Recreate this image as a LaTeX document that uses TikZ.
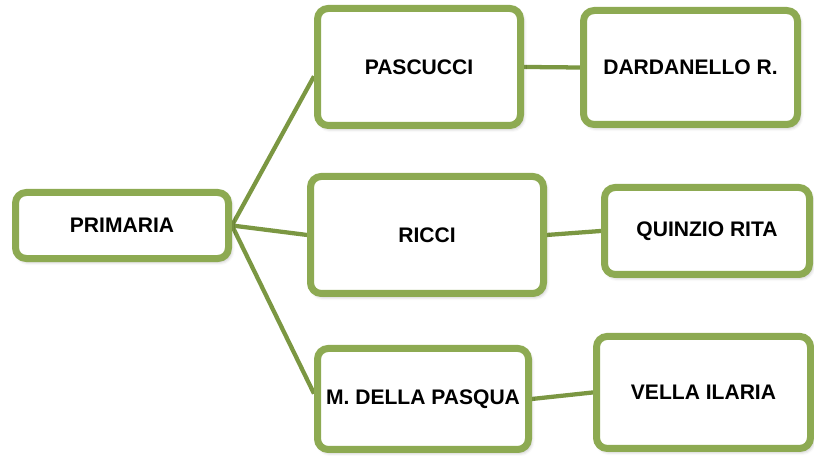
\documentclass[tikz,border=0pt]{standalone}
\usepackage{fontspec}
\setmainfont{Liberation Sans}
\usepackage{xcolor}
\usetikzlibrary{
  positioning,
  shadows.blur,
  backgrounds
}
\definecolor{boxgreen}{HTML}{8DAA52}
\definecolor{linegreen}{HTML}{7B9742}

\begin{document}
\begin{tikzpicture}[
    x=0.75pt, y=-0.75pt,
    every node/.style={font=\fontsize{15.8}{19}\selectfont\bfseries},
    box/.style={
      draw=boxgreen,
      line width=5.25pt,
      rounded corners=8pt,
      fill=white,
      align=center,
      inner sep=2pt,
      blur shadow={shadow xshift=1.5pt, shadow yshift=-2pt,
        shadow blur radius=3pt, shadow opacity=35}
    },
    link/.style={draw=linegreen, line width=3.2pt}
  ]
  \useasboundingbox (0,0) rectangle (814,456);

    % Left: school level
    \node[box, minimum width=159.75pt, minimum height=49.5pt] (prim) at (122,225.5) {PRIMARIA};

    % Middle column
    \node[box, right=61.5pt of prim, yshift=118.9pt,
      minimum width=152.25pt, minimum height=87.75pt] (pasc) {PASCUCCI};
    \node[box, right=56.25pt of prim, yshift=-7.1pt,
      minimum width=174.75pt, minimum height=87.75pt] (ricci) {RICCI};
    \node[box, right=61.5pt of prim, yshift=-130.1pt,
      minimum width=158.25pt, minimum height=75.75pt] (mdp) {M. DELLA PASQUA};

    % Right column
    \node[box, right=42pt of pasc, yshift=-0.4pt,
      minimum width=160.5pt, minimum height=85.5pt] (dard) {DARDANELLO R.};
    \node[box, right=40.5pt of ricci, yshift=3pt,
      minimum width=153.75pt, minimum height=65.25pt] (quin) {QUINZIO RITA};
    \node[box, right=45.75pt of mdp, yshift=4.9pt,
      minimum width=160.5pt, minimum height=84pt] (vella) {VELLA ILARIA};

    % Connectors
    \begin{scope}[on background layer]
      \draw[link] (prim.east) -- ([yshift=-7pt]pasc.west);
      \draw[link] (prim.east) -- (ricci.west);
      \draw[link] (prim.east) -- ([yshift=4pt]mdp.west);
      \draw[link] (pasc.east) -- (dard.west);
      \draw[link] (ricci.east) -- (quin.west);
      \draw[link] (mdp.east) -- (vella.west);
    \end{scope}

\end{tikzpicture}
\end{document}
